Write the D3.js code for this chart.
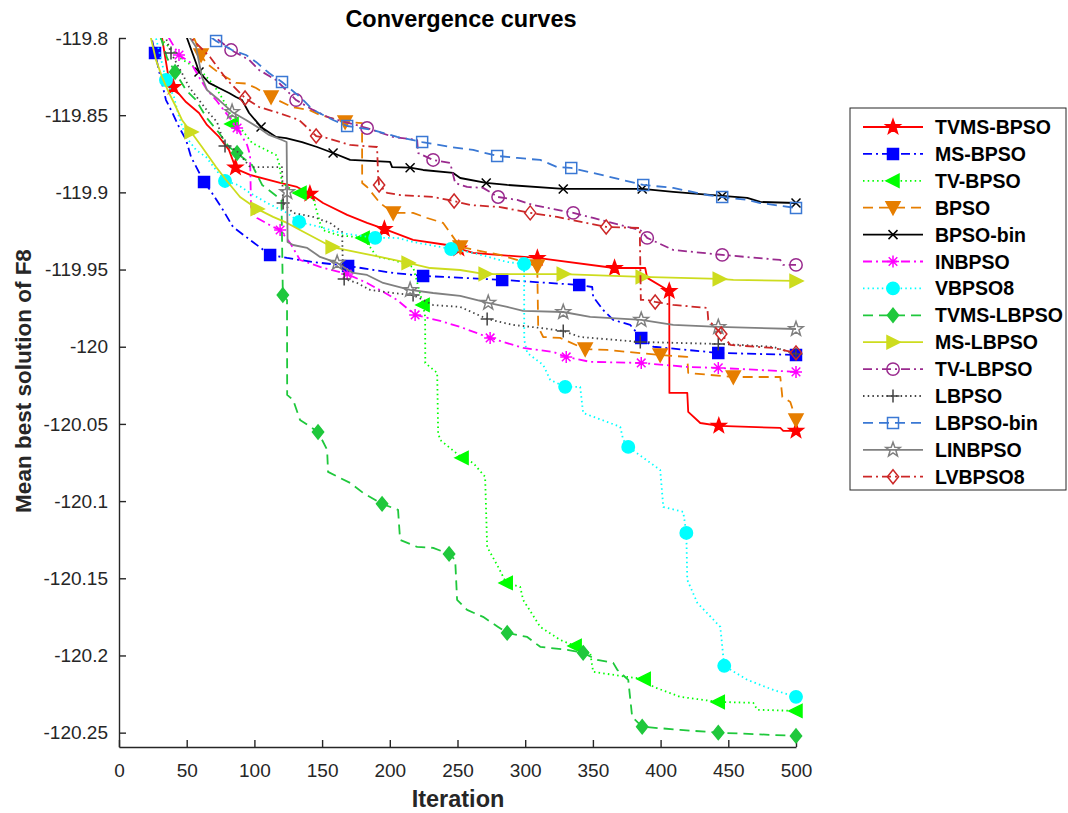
<!DOCTYPE html>
<html>
<head>
<meta charset="utf-8">
<script src="https://cdn.jsdelivr.net/npm/d3@7"></script>
<style>
  body { margin: 0; background: #fff; }
  svg { display: block; font-family: "Liberation Sans", Arial, Helvetica, sans-serif; }
</style>
</head>
<body>
<div id="chart"></div>
<script>
// Series names (legend order)
const seriesNames = ["TVMS-BPSO", "MS-BPSO", "TV-BPSO", "BPSO", "BPSO-bin", "INBPSO", "VBPSO8",
  "TVMS-LBPSO", "MS-LBPSO", "TV-LBPSO", "LBPSO", "LBPSO-bin", "LINBPSO", "LVBPSO8"];

// Axis ticks
const xTicks = [0, 50, 100, 150, 200, 250, 300, 350, 400, 450, 500];
const yTicks = [-119.8, -119.85, -119.9, -119.95, -120, -120.05, -120.1, -120.15, -120.2, -120.25];
const yTickLabels = ["-119.8", "-119.85", "-119.9", "-119.95", "-120", "-120.05", "-120.1", "-120.15", "-120.2", "-120.25"];

// Curves: [iteration, mean best value]
const tvmsBpso = [[25,-119.77],[31.8,-119.8],[36.9,-119.8272],[39.9,-119.8317],[49.5,-119.8415],[59.1,-119.8486],[65,-119.8563],[73.9,-119.8641],[81.2,-119.8725],[86.4,-119.8848],[96.8,-119.8887],[119,-119.8939],[131.5,-119.8965],[141.1,-119.901],[150.7,-119.9069],[168.5,-119.9146],[183.2,-119.9198],[195.8,-119.9237],[217.2,-119.9308],[242.4,-119.9341],[261.6,-119.9392],[308.9,-119.9425],[365.7,-119.949],[388.6,-119.949],[390.1,-119.9554],[406.4,-119.9639],[406.5,-120.0299],[419.7,-120.0299],[420.4,-120.0422],[429.3,-120.0494],[443.3,-120.0513],[488.4,-120.0526],[490.6,-120.0545],[500,-120.0545]];
const msBpso = [[20,-119.79],[24.4,-119.8013],[26.6,-119.8097],[30.3,-119.824],[34.7,-119.8402],[39.2,-119.848],[44.3,-119.8576],[49.5,-119.866],[53.2,-119.877],[62.8,-119.8933],[67.2,-119.8984],[76.8,-119.9114],[84.2,-119.9224],[96.8,-119.9308],[111.6,-119.9405],[124.1,-119.9425],[143.3,-119.9451],[169.2,-119.9477],[202.5,-119.9522],[224.6,-119.9541],[283,-119.9567],[339.9,-119.96],[349.5,-119.9613],[350.2,-119.9677],[357.6,-119.9762],[365,-119.9826],[377.6,-119.9859],[385.7,-119.9943],[394.6,-120.0],[442.6,-120.004],[500,-120.0053]];
const tvBpso = [[15,-119.78],[30.3,-119.8],[45.1,-119.813],[61.3,-119.822],[68.7,-119.8291],[73.9,-119.8356],[81.3,-119.8466],[83.5,-119.8557],[90.9,-119.8596],[98.3,-119.868],[108.6,-119.8725],[116,-119.8758],[118.2,-119.881],[120.4,-119.8939],[127.8,-119.8984],[133.7,-119.9004],[143.3,-119.9036],[148.5,-119.9198],[150.7,-119.9244],[161.1,-119.9276],[180.3,-119.9295],[183.2,-119.9328],[190.6,-119.9418],[202.5,-119.9438],[217.2,-119.9483],[224.6,-119.9729],[226.1,-119.9807],[226.2,-120.0105],[235,-120.017],[235.7,-120.0558],[237.2,-120.0604],[253.4,-120.072],[261.6,-120.0753],[270.4,-120.0843],[271.9,-120.1297],[280,-120.1426],[286,-120.153],[296.3,-120.1556],[298.5,-120.164],[311.1,-120.1815],[325.8,-120.1899],[336.9,-120.1938],[348,-120.1983],[350.2,-120.2106],[375.4,-120.2139],[387.9,-120.2152],[394.6,-120.2203],[414.5,-120.2268],[442.6,-120.2301],[468.5,-120.2307],[471.4,-120.2352],[500,-120.2359]];
const bpso = [[48,-119.78],[55.4,-119.8],[60.6,-119.811],[64.3,-119.8162],[73.9,-119.8227],[86.4,-119.8291],[93.8,-119.8295],[101.2,-119.8324],[112.3,-119.8382],[127.8,-119.8447],[140.4,-119.8466],[148.5,-119.8499],[167,-119.8544],[179.5,-119.8551],[179.6,-119.8939],[183.2,-119.8965],[192.8,-119.9069],[202.5,-119.9133],[217.2,-119.9133],[227.6,-119.9166],[239.4,-119.9198],[243.1,-119.9244],[252,-119.9354],[281.5,-119.9405],[308.9,-119.9477],[309.6,-119.9872],[313.3,-119.9937],[325.8,-119.9943],[344.3,-120.0015],[360.6,-120.0021],[399.7,-120.0053],[419.7,-120.0066],[420.4,-120.017],[453.7,-120.0196],[488.4,-120.0196],[489.9,-120.0325],[495.8,-120.0358],[500,-120.0474]];
const bpsoBin = [[45,-119.788],[50.2,-119.8],[56.9,-119.8162],[59.1,-119.822],[66.5,-119.8291],[73.9,-119.8324],[81.3,-119.8356],[86.4,-119.8382],[90.9,-119.8402],[96.1,-119.8486],[104.9,-119.8576],[116,-119.8641],[123.4,-119.8648],[135.2,-119.8674],[146.3,-119.8706],[158.1,-119.8745],[170.7,-119.879],[200.2,-119.8803],[201.7,-119.8836],[215,-119.884],[224.6,-119.8855],[246.8,-119.8874],[252,-119.8907],[271.2,-119.8939],[286.7,-119.8952],[328.1,-119.8978],[386.4,-119.8978],[409.3,-119.8997],[445.5,-119.9023],[464,-119.9036],[473.6,-119.9062],[500,-119.9069]];
const inbpso = [[20,-119.78],[36.9,-119.8],[44.3,-119.811],[53.2,-119.8162],[59.1,-119.8253],[65,-119.8337],[71.7,-119.8402],[81.3,-119.8512],[87.2,-119.8583],[94.6,-119.8693],[96.8,-119.8758],[97.5,-119.9095],[102,-119.9166],[113.8,-119.9224],[119,-119.9244],[126.4,-119.9328],[133.7,-119.9438],[148.5,-119.9483],[168.5,-119.9529],[183.2,-119.9587],[195.1,-119.9645],[205.4,-119.9697],[218.7,-119.9794],[237.2,-119.9833],[252,-119.9872],[274.1,-119.9943],[298.5,-120.0008],[320.7,-120.0034],[330.3,-120.0066],[348,-120.0098],[385.7,-120.0105],[419.7,-120.0131],[442.6,-120.0137],[500,-120.0163]];
const vbpso8 = [[20,-119.78],[27.3,-119.8],[34.7,-119.8272],[40.6,-119.8382],[44.3,-119.8512],[49.5,-119.8641],[56.9,-119.8725],[64.3,-119.8771],[71.7,-119.8855],[78.3,-119.8926],[87.9,-119.8952],[96.8,-119.9004],[109.4,-119.9069],[124.1,-119.9133],[133,-119.9192],[148.5,-119.9224],[163.3,-119.9263],[189.2,-119.9295],[205.4,-119.9295],[217.2,-119.9321],[245.3,-119.9367],[261.6,-119.9392],[286.7,-119.9451],[299.2,-119.9464],[299.3,-119.9956],[301.5,-120.004],[313.3,-120.0118],[318.5,-120.0215],[329.5,-120.026],[340.6,-120.026],[342.8,-120.0429],[370.2,-120.0519],[372.4,-120.0604],[376.1,-120.0649],[399.7,-120.0798],[402,-120.1038],[416.7,-120.107],[419,-120.1206],[419.7,-120.151],[427.1,-120.1659],[444.1,-120.1815],[446.3,-120.2009],[447,-120.2067],[464,-120.2158],[483.2,-120.2223],[500,-120.2268]];
const tvmsLbpso = [[20,-119.78],[31,-119.8],[35.5,-119.813],[41.4,-119.822],[49.5,-119.8337],[56.9,-119.8402],[64.3,-119.8512],[73.9,-119.8615],[81.3,-119.8706],[87.2,-119.8745],[98.3,-119.8823],[105.7,-119.8952],[115.3,-119.9017],[120,-119.9049],[121,-119.9665],[124.1,-119.9697],[124.2,-120.0312],[128.6,-120.0345],[133.7,-120.0474],[147,-120.0552],[153.7,-120.0668],[154.4,-120.0811],[163.3,-120.085],[170.7,-120.0882],[180.3,-120.0947],[194.3,-120.1018],[206.1,-120.1057],[207.6,-120.1251],[220.2,-120.1297],[232,-120.1303],[243.8,-120.1342],[248.3,-120.1381],[249.7,-120.164],[257.1,-120.1705],[268.9,-120.175],[280,-120.1815],[286.7,-120.1854],[301.5,-120.188],[311.1,-120.1944],[331,-120.1964],[342.8,-120.1983],[353.2,-120.2029],[365,-120.2048],[368,-120.2093],[376.1,-120.2158],[379,-120.2398],[386.4,-120.2462],[414.5,-120.2482],[442.6,-120.25],[500,-120.2521]];
const msLbpso = [[15,-119.78],[23.6,-119.8],[27.3,-119.8142],[31.8,-119.8253],[36.9,-119.8356],[42.1,-119.8447],[46.5,-119.8531],[53.2,-119.8609],[61.3,-119.8706],[66.5,-119.8771],[71.7,-119.8836],[79.1,-119.892],[89.4,-119.903],[102,-119.9107],[113.8,-119.9159],[124.1,-119.9198],[133.7,-119.9244],[157.4,-119.9354],[178.1,-119.9392],[192.8,-119.9418],[213.5,-119.9457],[229.8,-119.949],[252,-119.9503],[270.4,-119.9529],[328.1,-119.9529],[386.4,-119.9548],[443.3,-119.9561],[453.7,-119.9567],[500,-119.9574]];
const tvLbpso = [[50,-119.77],[71.7,-119.8],[82.8,-119.8078],[96.1,-119.8142],[103.4,-119.8207],[116,-119.8272],[125.6,-119.8356],[130.8,-119.8402],[143.3,-119.8466],[155.9,-119.8518],[183.2,-119.8583],[202.5,-119.8641],[220.2,-119.8661],[220.9,-119.8745],[232,-119.879],[244.6,-119.881],[248.3,-119.8939],[257.1,-119.8965],[268.9,-119.8971],[280,-119.903],[294.1,-119.9049],[305.9,-119.9082],[335.5,-119.9133],[350.2,-119.9166],[385,-119.9244],[390.1,-119.9295],[409.3,-119.9373],[445.5,-119.9405],[488.4,-119.9438],[490.6,-119.947],[500,-119.947]];
const lbpso = [[15,-119.78],[34.7,-119.8],[38.4,-119.8097],[46.5,-119.8227],[51.7,-119.8317],[59.1,-119.8402],[66.5,-119.8486],[72.4,-119.8544],[78.3,-119.87],[86.4,-119.8725],[96.8,-119.8836],[120.4,-119.8836],[120.8,-119.8965],[121.2,-119.9069],[128.6,-119.9133],[143.3,-119.9159],[155.9,-119.9198],[164.8,-119.9256],[165.2,-119.9438],[166.3,-119.9561],[175.9,-119.9587],[185.5,-119.9632],[202.5,-119.9652],[217.2,-119.9665],[232,-119.973],[252,-119.9742],[271.9,-119.982],[291.1,-119.9859],[311.1,-119.9878],[328.1,-119.9898],[340.6,-119.9937],[385,-119.9969],[442.6,-119.9982],[458.9,-119.9988],[483.2,-120.0001],[500,-120.0047]];
const lbpsoBin = [[60,-119.78],[68.7,-119.8],[71.7,-119.8019],[83.5,-119.8078],[93.8,-119.811],[101.2,-119.8155],[110.8,-119.8227],[120.4,-119.8285],[133.7,-119.8382],[143.3,-119.8466],[158.1,-119.8531],[168.5,-119.857],[187.7,-119.8596],[205.4,-119.8641],[223.9,-119.8674],[244.6,-119.8706],[261.6,-119.8725],[279.3,-119.8764],[294.1,-119.8777],[311.1,-119.879],[323.6,-119.8836],[334,-119.8842],[350.2,-119.8874],[387.2,-119.8952],[409.3,-119.8971],[434.5,-119.9017],[445.5,-119.903],[464,-119.9049],[473.6,-119.9069],[500,-119.9101]];
const linbpso = [[30,-119.76],[52.5,-119.8],[56.9,-119.8058],[61.3,-119.8253],[65,-119.8337],[73.9,-119.8402],[83.5,-119.8479],[93.8,-119.8531],[103.4,-119.8583],[110.8,-119.8628],[120.4,-119.8661],[123.8,-119.8674],[124.5,-119.9321],[128.6,-119.9341],[139,-119.936],[148.5,-119.9418],[161.1,-119.9457],[172.9,-119.9522],[183.2,-119.9535],[195.1,-119.9587],[215,-119.9632],[232,-119.9652],[252,-119.9671],[272.7,-119.9716],[286.7,-119.9742],[298.5,-119.9768],[328.1,-119.9775],[348,-119.9807],[385.7,-119.9826],[409.3,-119.9859],[442.6,-119.9872],[500,-119.9885]];
const lvbpso8 = [[40,-119.77],[54.7,-119.8013],[67.2,-119.8123],[79.8,-119.8272],[93.1,-119.8389],[103.4,-119.8447],[118.2,-119.8486],[133,-119.8531],[145.6,-119.8635],[153.7,-119.8648],[170.7,-119.8693],[190.6,-119.8706],[191.4,-119.89],[192.1,-119.8952],[198,-119.9004],[207.6,-119.9017],[232,-119.903],[247.5,-119.9056],[259.3,-119.9082],[281.5,-119.9095],[303.7,-119.9133],[323.6,-119.9159],[359.8,-119.9224],[384.6,-119.9231],[385.4,-119.9697],[390.1,-119.9697],[396,-119.971],[409.3,-119.9729],[434.5,-119.9749],[435.2,-119.9826],[444.8,-119.9917],[451.5,-119.9988],[471.4,-120.0001],[483.2,-120.0008],[500,-120.004]];

// Iterations where markers are drawn
const tvmsBpsoMarks = [40, 86, 141, 196, 251, 309, 366, 406.4, 443, 500];
const msBpsoMarks = [26.6, 62.8, 111.6, 169.2, 224.6, 283, 339.9, 385.7, 442.6, 500];
const tvBpsoMarks = [83.5, 133.7, 180.3, 224.6, 253.4, 286, 336.9, 387.9, 442.6, 500];
const bpsoMarks = [60.6, 112.3, 167, 202.5, 252, 308.9, 344.3, 399.7, 453.7, 500];
const bpsoBinMarks = [59.1, 104.9, 158.1, 215, 271.2, 328.1, 386.4, 445.5, 500];
const inbpsoMarks = [44.3, 87.2, 119, 168.5, 218.7, 274.1, 330.3, 385.7, 442.6, 500];
const vbpso8Marks = [34.7, 78.3, 133, 189.2, 245.3, 299.2, 329.5, 376.1, 419, 447, 500];
const tvmsLbpsoMarks = [41.4, 87.2, 121, 147, 194.3, 243.8, 286.7, 342.8, 386.4, 442.6, 500];
const msLbpsoMarks = [53.2, 102, 157.4, 213.5, 270.4, 328.1, 386.4, 443.3, 500];
const tvLbpsoMarks = [82.8, 130.8, 183.2, 232, 280, 335.5, 390.1, 445.5, 500];
const lbpsoMarks = [38.4, 78.3, 121.2, 166.3, 217.2, 271.9, 328.1, 385, 442.6, 500];
const lbpsoBinMarks = [71.7, 120.4, 168.5, 223.9, 279.3, 334, 387.2, 445.5, 500];
const linbpsoMarks = [83.5, 124.15, 161.1, 215, 272.7, 328.1, 385.7, 442.6, 500];
const lvbpso8Marks = [93.1, 145.6, 192.1, 247.5, 303.7, 359.8, 396, 444.8, 500];

const curves = [tvmsBpso, msBpso, tvBpso, bpso, bpsoBin, inbpso, vbpso8, tvmsLbpso, msLbpso, tvLbpso, lbpso, lbpsoBin, linbpso, lvbpso8];
const marks = [tvmsBpsoMarks, msBpsoMarks, tvBpsoMarks, bpsoMarks, bpsoBinMarks, inbpsoMarks, vbpso8Marks,
  tvmsLbpsoMarks, msLbpsoMarks, tvLbpsoMarks, lbpsoMarks, lbpsoBinMarks, linbpsoMarks, lvbpso8Marks];

// Line styles
const DASH = "10,6", DASHDOT = "9,4,2,4", DOT = "1.5,3.2";
const styles = [
  {color: "#ff0000", dash: null,    marker: "star",    filled: true},
  {color: "#0000ff", dash: DASHDOT, marker: "square",  filled: true},
  {color: "#00ff00", dash: DOT,     marker: "triLeft", filled: true},
  {color: "#e67e00", dash: DASH,    marker: "triDown", filled: true},
  {color: "#000000", dash: null,    marker: "x",       filled: false},
  {color: "#ff00ff", dash: DASHDOT, marker: "asterisk", filled: false},
  {color: "#00ffff", dash: DOT,     marker: "circle",  filled: true},
  {color: "#1fc83c", dash: DASH,    marker: "diamond", filled: true},
  {color: "#cddc1e", dash: null,    marker: "triRight", filled: true},
  {color: "#9a2a8e", dash: DASHDOT, marker: "circle",  filled: false},
  {color: "#444444", dash: DOT,     marker: "plus",    filled: false},
  {color: "#3a78d4", dash: DASH,    marker: "square",  filled: false},
  {color: "#808080", dash: null,    marker: "star",    filled: false},
  {color: "#cc2727", dash: DASHDOT, marker: "diamond", filled: false}
];

function markerPath(type) {
  switch (type) {
    case "star": {
      const pts = d3.range(10).map(i => {
        const a = -Math.PI / 2 + i * Math.PI / 5, r = i % 2 ? 3.1 : 7.6;
        return [r * Math.cos(a), r * Math.sin(a)];
      });
      return "M" + pts.map(p => p.join(",")).join("L") + "Z";
    }
    case "square": return "M-5.5,-5.5H5.5V5.5H-5.5Z";
    case "triLeft": return "M-7,0L6,-6.5L6,6.5Z";
    case "triRight": return "M7,0L-6,-6.5L-6,6.5Z";
    case "triDown": return "M-7,-6L7,-6L0,7Z";
    case "diamond": return "M0,-7L5.6,0L0,7L-5.6,0Z";
    case "circle": return "M6.2,0A6.2,6.2 0 1,1 -6.2,0A6.2,6.2 0 1,1 6.2,0Z";
    case "x": return "M-4.5,-4.5L4.5,4.5M-4.5,4.5L4.5,-4.5";
    case "plus": return "M-6.5,0H6.5M0,-6.5V6.5";
    case "asterisk": return "M-6,0H6M0,-6V6M-4.3,-4.3L4.3,4.3M-4.3,4.3L4.3,-4.3";
  }
}

// value of a curve at a given iteration (for placing markers on the line)
function valueAt(pts, it) {
  for (let i = 1; i < pts.length; i++) {
    const [x0, y0] = pts[i - 1], [x1, y1] = pts[i];
    if (it >= x0 && it <= x1) return x1 === x0 ? y0 : y0 + (y1 - y0) * (it - x0) / (x1 - x0);
  }
  return pts[pts.length - 1][1];
}

const W = 1068, H = 813;
const svg = d3.select("#chart").append("svg").attr("width", W).attr("height", H);

const x = d3.scaleLinear().domain([0, 500]).range([119, 796]);
const y = d3.scaleLinear().domain([-120.2593, -119.8]).range([747, 38]);

svg.append("clipPath").attr("id", "plotclip")
  .append("rect").attr("x", 119).attr("y", 38).attr("width", 684).attr("height", 709);

const axisColor = "#262626";

// Axes
const gx = svg.append("g").attr("transform", "translate(0,747)")
  .call(d3.axisBottom(x).tickValues(xTicks).tickFormat(d3.format("d"))
    .tickSizeInner(-7).tickSizeOuter(0).tickPadding(17));
const gy = svg.append("g").attr("transform", "translate(119,0)")
  .call(d3.axisLeft(y).tickValues(yTicks).tickFormat((d, i) => yTickLabels[i])
    .tickSizeInner(-7).tickSizeOuter(0).tickPadding(11));
[gx, gy].forEach(g => {
  g.select(".domain").attr("stroke", axisColor).attr("stroke-width", 1.4);
  g.selectAll(".tick line").attr("stroke", axisColor).attr("stroke-width", 1.4);
  g.selectAll(".tick text").attr("fill", axisColor).style("font-size", "19px")
    .style("font-family", "'Liberation Sans', Arial, sans-serif");
});

// Curves
const line = d3.line().x(d => x(d[0])).y(d => y(d[1]));
curves.forEach((pts, i) => {
  const s = styles[i];
  const g = svg.append("g");
  g.append("path")
    .attr("clip-path", "url(#plotclip)")
    .attr("d", line(pts))
    .attr("fill", "none")
    .attr("stroke", s.color)
    .attr("stroke-width", 1.8)
    .attr("stroke-dasharray", s.dash)
    .attr("stroke-linejoin", "round");
  g.selectAll("path.mk")
    .data(marks[i])
    .join("path")
    .attr("class", "mk")
    .attr("transform", d => `translate(${x(d)},${y(valueAt(pts, d))})`)
    .attr("d", markerPath(s.marker))
    .attr("fill", s.filled ? s.color : "none")
    .attr("stroke", s.color)
    .attr("stroke-width", 1.5);
});

// Title and axis labels
svg.append("text")
  .attr("x", 461).attr("y", 27)
  .attr("text-anchor", "middle")
  .style("font-size", "23.5px").style("font-weight", "bold")
  .attr("fill", "#000")
  .text("Convergence curves");

svg.append("text")
  .attr("x", 458).attr("y", 807)
  .attr("text-anchor", "middle")
  .style("font-size", "23.5px").style("font-weight", "bold")
  .attr("fill", axisColor)
  .text("Iteration");

svg.append("text")
  .attr("transform", "translate(31,381) rotate(-90)")
  .attr("text-anchor", "middle")
  .style("font-size", "22.5px").style("font-weight", "bold")
  .attr("fill", axisColor)
  .text("Mean best solution of F8");

// Legend
const legend = svg.append("g");
legend.append("rect")
  .attr("x", 850).attr("y", 108).attr("width", 216).attr("height", 382)
  .attr("fill", "#fff").attr("stroke", axisColor).attr("stroke-width", 1);

seriesNames.forEach((name, i) => {
  const s = styles[i];
  const ly = 127 + i * 26.9;
  legend.append("line")
    .attr("x1", 863).attr("x2", 923).attr("y1", ly).attr("y2", ly)
    .attr("stroke", s.color).attr("stroke-width", 1.8)
    .attr("stroke-dasharray", s.dash);
  legend.append("path")
    .attr("transform", `translate(893,${ly})`)
    .attr("d", markerPath(s.marker))
    .attr("fill", s.filled ? s.color : "none")
    .attr("stroke", s.color).attr("stroke-width", 1.5);
  legend.append("text")
    .attr("x", 935).attr("y", ly + 7)
    .style("font-size", "19.5px").style("font-weight", "bold")
    .attr("fill", "#000")
    .text(name);
});
</script>
</body>
</html>
